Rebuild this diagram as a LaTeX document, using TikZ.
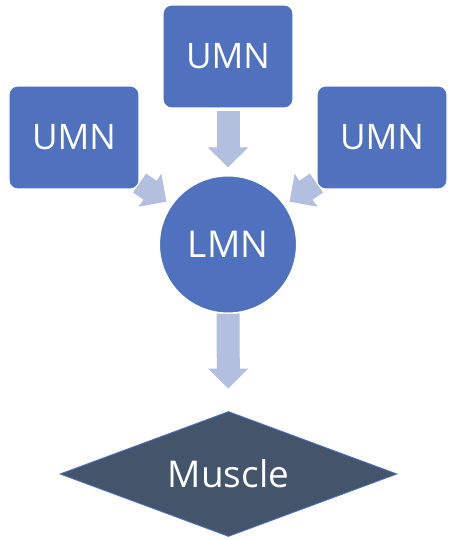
\documentclass[tikz,border=0pt]{standalone}
\usepackage{fontspec}
\setsansfont{Open Sans}
\usepackage{xcolor}
\usepackage{tikz}
\usetikzlibrary{shapes.geometric, arrows.meta, backgrounds}
\definecolor{neuronblue}{HTML}{4F71BE}
\definecolor{arrowblue}{HTML}{B3BFDF}
\definecolor{muscleslate}{HTML}{44546A}
\tikzset{
  umnbox/.style={
    draw=white, rounded corners=5pt, line width=0.6pt, fill=neuronblue,
    minimum height=2.06cm, minimum width=2.6cm, inner sep=0pt,
    text=white, font=\sffamily\fontsize{20}{24}\selectfont
  },
  lmnnode/.style={
    circle, draw=white, line width=0.6pt, fill=neuronblue,
    minimum size=2.74cm, inner sep=0pt,
    text=white, font=\sffamily\fontsize{21}{25}\selectfont
  },
  musclenode/.style={
    diamond, draw=neuronblue, line width=0.5pt, fill=muscleslate,
    shape aspect=2.7, minimum width=6.74cm, minimum height=2.5cm, inner sep=0pt,
    text=white, font=\sffamily\fontsize{21}{25}\selectfont
  },
  fatarrow/.style={-{Triangle[length=0.4cm, width=0.78cm]}, line width=0.46cm, color=arrowblue},
}
\begin{document}
\begin{tikzpicture}
  \useasboundingbox (0,0) rectangle (9.08,10.8);

  \node[umnbox] (umntop) at (4.56,9.67) {UMN};
  \node[umnbox] (umnleft) at (1.48,8.05) {UMN};
  \node[umnbox] (umnright) at (7.64,8.05) {UMN};

  \node[lmnnode] (lmn) at (4.56,5.91) {LMN};

  \node[musclenode] (muscle) at (4.57,1.32) {Muscle};

  \begin{scope}[on background layer]
    \draw[fatarrow, shorten <=0.04cm, shorten >=0.16cm] (umntop) -- (lmn);
    \draw[fatarrow, shorten >=0.12cm] (umnleft) -- (lmn);
    \draw[fatarrow, shorten >=0.12cm] (umnright) -- (lmn);
    \draw[fatarrow, shorten >=0.45cm] (lmn) -- (muscle);
  \end{scope}
\end{tikzpicture}
\end{document}
